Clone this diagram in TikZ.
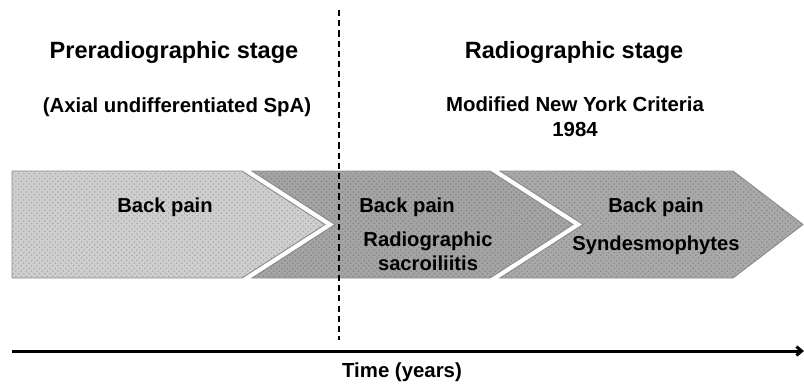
\documentclass[tikz,border=0pt]{standalone}
\usepackage{fontspec}
\setmainfont{Liberation Sans}
\usetikzlibrary{arrows.meta, positioning, calc, patterns}
\usepackage{xcolor}
\definecolor{spalight}{HTML}{CFCFCF}
\definecolor{spamid}{HTML}{A4A4A4}
\definecolor{spadark}{HTML}{A9A9A9}
\definecolor{spaedge}{HTML}{8A8A8A}

\begin{document}
\begin{tikzpicture}[
    x=0.02cm, y=-0.02cm,
    chevron/.style={
        preaction={fill=#1},
        pattern=crosshatch dots,
        pattern color=#1!82!black,
        draw=spaedge,
        line width=0.5pt,
        line join=miter
    },
    heading/.style={
        font=\fontsize{13.4}{15}\selectfont\bfseries,
        inner sep=0pt
    },
    sublabel/.style={
        font=\fontsize{11.6}{14}\selectfont\bfseries,
        align=center,
        inner sep=0pt
    },
    stagetext/.style={
        font=\fontsize{11.5}{13.5}\selectfont\bfseries,
        align=center,
        inner sep=0pt
    },
    timeline/.style={
        -{Straight Barb[length=3pt, width=5pt]},
        line width=1.7pt
    },
    divider/.style={
        dash pattern=on 3.5pt off 2.3pt,
        line width=1.1pt
    }
]

% Frame
\useasboundingbox (0,0) rectangle (804,387);

% Stage arrows
\draw[chevron=spalight] (12,171) -- (242,171) -- (325,224.5) -- (242,278) -- (12,278) -- cycle;
\draw[chevron=spamid] (252,171) -- (490,171) -- (573,224.5) -- (490,278) -- (252,278) -- (335,224.5) -- cycle;
\draw[chevron=spadark] (500,171) -- (733,171) -- (803,224.5) -- (733,278) -- (500,278) -- (583,224.5) -- cycle;

% Stage boundary
\coordinate (divtop) at (339,10);
\coordinate (divbot) at (339,340);
\draw[divider] (divtop) -- (divbot);

% Headings
\node[heading] (prehead) at (174,52) {Preradiographic stage};
\node[heading] (radhead) at (574,52) {Radiographic stage};
\node[sublabel] (presub) at (177,107) {(Axial undifferentiated SpA)};
\node[sublabel] (radsub) at (575,117) {Modified New York Criteria\\1984};

% Arrow contents
\node[stagetext] (pain1) at (165,207) {Back pain};
\node[stagetext] (pain2) at (407,207) {Back pain};
\node[stagetext] (sacro) at (428,251) {Radiographic\\sacroiliitis};
\node[stagetext] (pain3) at (656,207) {Back pain};
\node[stagetext] (syndes) at (656,245) {Syndesmophytes};

% Time axis
\coordinate (tstart) at (12,351);
\coordinate (tend) at (804,351);
\draw[timeline] (tstart) -- (tend);
\node[sublabel] (timelbl) at (402,372) {Time (years)};

\end{tikzpicture}
\end{document}
